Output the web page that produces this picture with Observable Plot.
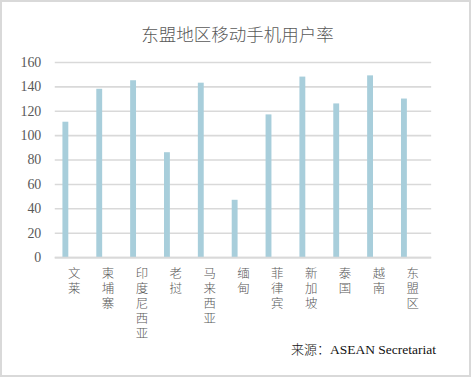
<!DOCTYPE html>
<html>
<head>
<meta charset="utf-8">
<script src="https://cdn.jsdelivr.net/npm/d3@7"></script>
<script src="https://cdn.jsdelivr.net/npm/@observablehq/plot@0.6"></script>
<style>
  html, body { margin: 0; padding: 0; background: #fff; }
  #frame {
    position: relative; width: 471px; height: 377px; box-sizing: border-box;
    border: 2px solid #d9d9d9; background: #fff; overflow: hidden;
  }
  #title {
    position: absolute; left: 0; top: 21px; width: 471px; text-align: center;
    font-family: "Noto Sans CJK SC", sans-serif; font-size: 17.5px; line-height: 22px;
    color: #595959; font-weight: 300;
  }
  #chart { position: absolute; left: -2px; top: 48px; }
  #caption {
    position: absolute; right: 33px; top: 338px;
    font-family: "Liberation Serif", serif; font-size: 13.5px;
    color: #111; line-height: 18px;
  }
  #caption .cjk { font-family: "Noto Sans CJK SC", sans-serif; font-weight: 300; font-size: 13px; }
  svg text { font-family: "Liberation Serif", "Noto Sans CJK SC", serif; }
</style>
</head>
<body>
<div id="frame">
  <div id="title">东盟地区移动手机用户率</div>
  <div id="chart"></div>
  <div id="caption"><span class="cjk">来源：</span>ASEAN Secretariat</div>
</div>
<script>
const categories = ["文莱","柬埔寨","印度尼西亚","老挝","马来西亚","缅甸","菲律宾","新加坡","泰国","越南","东盟区"];
const values = [111, 138, 145, 86, 143, 47, 117, 148, 126, 149, 130];
const yTicks = [0, 20, 40, 60, 80, 100, 120, 140, 160];

const data = categories.map((c, i) => ({cat: c, value: values[i]}));

const chart = Plot.plot({
  width: 471,
  height: 298,
  marginTop: 12,
  marginBottom: 90,
  marginLeft: 55,
  marginRight: 38,
  style: {fontFamily: '"Liberation Serif", "Noto Sans CJK SC", serif', fontSize: "14px", color: "#595959", background: "transparent"},
  x: {domain: categories, padding: 0, label: null},
  y: {domain: [0, 160], label: null},
  marks: [
    Plot.gridY(yTicks, {stroke: "#d9d9d9", strokeOpacity: 1, strokeWidth: 1.6}),
    Plot.barY(data, {x: "cat", y: "value", fill: "#a8cedb", insetLeft: 5.7, insetRight: 22.4}),
    Plot.ruleY([0], {stroke: "#d9d9d9", strokeWidth: 1.6}),
    Plot.axisY(yTicks, {tickSize: 0, tickPadding: 14, label: null, fill: "#595959", fontSize: 14,
      fontFamily: '"Liberation Serif", serif'}),
    Plot.axisX({tickSize: 0, tickPadding: 10, label: null, tickFormat: d => [...d].join("\n"),
      lineHeight: 1.2, fontFamily: '"Noto Sans CJK SC", sans-serif', fontSize: 12.5, fontWeight: 300, fill: "#595959"})
  ]
});
document.getElementById("chart").appendChild(chart);
</script>
</body>
</html>
